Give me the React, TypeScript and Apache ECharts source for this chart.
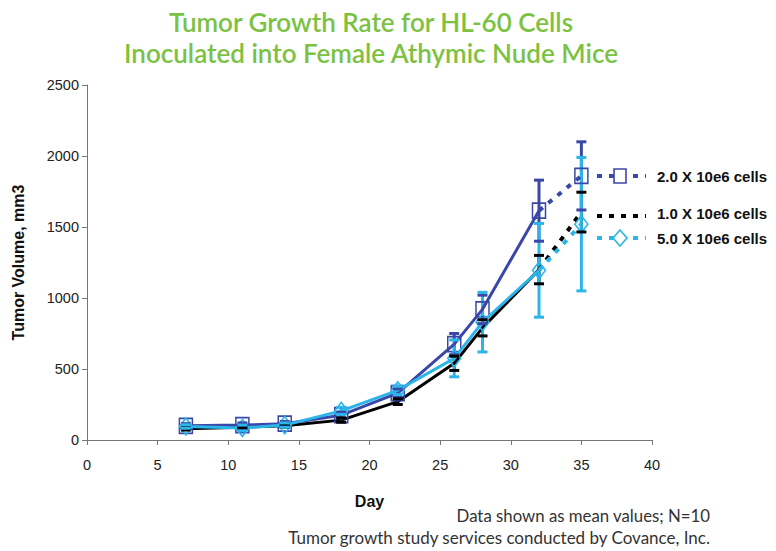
import React, { useEffect, useRef } from "react";
import * as echarts from "echarts";

const days = [7, 11, 14, 18, 22, 26, 28, 32, 35];
const cells2 = [100, 105, 115, 175, 330, 675, 920, 1615, 1860];
const err2 = [15, 15, 15, 20, 30, 75, 100, 215, 240];
const cells1 = [80, 90, 100, 140, 270, 540, 790, 1200, 1605];
const err1 = [10, 10, 10, 15, 20, 50, 57, 100, 140];
const cells5 = [95, 85, 105, 205, 350, 575, 830, 1195, 1520];
const err5 = [12, 20, 15, 25, 30, 130, 210, 330, 470];

const seriesNames = ["2.0 X 10e6 cells", "1.0 X 10e6 cells", "5.0 X 10e6 cells"];
const xTicks = [0, 5, 10, 15, 20, 25, 30, 35, 40];
const yTicks = [0, 500, 1000, 1500, 2000, 2500];

const BLUE = "#3b47a6";
const BLACK = "#000000";
const CYAN = "#2bb5e8";
const GREEN = "#7cc242";

const splitIdx = 7;

function solidData(vals: number[]) {
  return days.slice(0, splitIdx + 1).map((d, i) => [d, vals[i]]);
}
function dashData(vals: number[], withSymbol: boolean) {
  return days.slice(splitIdx).map((d, i) => ({
    value: [d, vals[splitIdx + i]],
    symbol: i === 0 || !withSymbol ? "none" : undefined,
  }));
}
function errData(vals: number[], errs: number[]) {
  return days.map((d, i) => [d, vals[i], errs[i]]);
}

function barSeries(vals: number[], errs: number[], color: string, z: number) {
  return {
    type: "custom",
    z,
    silent: true,
    data: errData(vals, errs),
    renderItem: (_p: any, api: any) => {
      const x = api.value(0), y = api.value(1), e = api.value(2);
      const t = api.coord([x, y + e]);
      const b = api.coord([x, y - e]);
      return {
        type: "line",
        shape: { x1: t[0], y1: t[1], x2: b[0], y2: b[1] },
        style: { stroke: color, lineWidth: 3 },
      };
    },
  };
}
function capSeries(vals: number[], errs: number[], color: string, z: number) {
  return {
    type: "custom",
    z,
    silent: true,
    data: errData(vals, errs),
    renderItem: (_p: any, api: any) => {
      const x = api.value(0), y = api.value(1), e = api.value(2);
      const t = api.coord([x, y + e]);
      const b = api.coord([x, y - e]);
      const h = 5;
      return {
        type: "group",
        children: [
          { type: "line", shape: { x1: t[0] - h, y1: t[1], x2: t[0] + h, y2: t[1] }, style: { stroke: color, lineWidth: 3 } },
          { type: "line", shape: { x1: b[0] - h, y1: b[1], x2: b[0] + h, y2: b[1] }, style: { stroke: color, lineWidth: 3 } },
        ],
      };
    },
  };
}

export default function App() {
  const ref = useRef<HTMLDivElement>(null);
  useEffect(() => {
    if (!ref.current) return;
    const chart = echarts.init(ref.current, undefined, { renderer: "svg" });
    const dash = [5, 7];
    const legendX1 = 597, legendX2 = 646, markX = 620;
    const legendRows = [
      { y: 176, color: BLUE, marker: "square", name: seriesNames[0], ty: 176 },
      { y: 216, color: BLACK, marker: "none", name: seriesNames[1], ty: 213 },
      { y: 238, color: CYAN, marker: "diamond", name: seriesNames[2], ty: 238 },
    ];
    const legendGraphics: any[] = [];
    legendRows.forEach((r) => {
      legendGraphics.push({
        type: "line",
        shape: { x1: legendX1, y1: r.y, x2: legendX2, y2: r.y },
        style: { stroke: r.color, lineWidth: 4, lineDash: dash },
      });
      if (r.marker === "square") {
        legendGraphics.push({
          type: "rect",
          shape: { x: markX - 6, y: r.y - 7, width: 12, height: 14 },
          style: { fill: "#fff", stroke: r.color, lineWidth: 1.6 },
        });
      } else if (r.marker === "diamond") {
        legendGraphics.push({
          type: "polygon",
          shape: { points: [[markX, r.y - 8], [markX + 7, r.y], [markX, r.y + 8], [markX - 7, r.y]] },
          style: { fill: "#fff", stroke: r.color, lineWidth: 1.6 },
        });
      }
      legendGraphics.push({
        type: "text",
        x: 657,
        y: r.ty,
        style: {
          text: r.name,
          fill: "#111",
          font: "bold 15px Arial, 'Liberation Sans', sans-serif",
          textVerticalAlign: "middle",
        },
      });
    });

    const lineSolid = (name: string, vals: number[], color: string, symbol: string, size: any, z: number) => ({
      name,
      type: "line",
      z,
      data: solidData(vals),
      symbol,
      symbolSize: size,
      showSymbol: symbol !== "none",
      lineStyle: { color, width: 3 },
      itemStyle: { color: "rgba(255,255,255,0)", borderColor: color, borderWidth: 1.6 },
    });
    const lineDashed = (name: string, vals: number[], color: string, symbol: string, size: any, z: number) => ({
      name,
      type: "line",
      z,
      data: dashData(vals, symbol !== "none"),
      symbol: symbol === "none" ? "none" : symbol,
      symbolSize: size,
      lineStyle: { color, width: 4, type: dash },
      itemStyle: { color: "rgba(255,255,255,0)", borderColor: color, borderWidth: 1.6 },
    });

    chart.setOption({
      animation: false,
      grid: { left: 87, right: 124, top: 85, bottom: 111, outerBoundsMode: "none", containLabel: false },
      xAxis: {
        type: "value",
        min: 0,
        max: 40,
        interval: 5,
        name: "Day",
        nameLocation: "middle",
        nameGap: 53,
        nameTextStyle: { fontFamily: "Arial, 'Liberation Sans'", fontWeight: "bold", fontSize: 16, color: "#111" },
        axisLine: { lineStyle: { color: "#777", width: 1 } },
        axisTick: { show: true, length: 5, lineStyle: { color: "#777" } },
        axisLabel: {
          margin: 17,
          fontFamily: "Arial, 'Liberation Sans'",
          fontSize: 14.5,
          color: "#222",
          formatter: (v: number) => (xTicks.includes(v) ? String(v) : ""),
        },
        splitLine: { show: false },
      },
      yAxis: {
        type: "value",
        min: 0,
        max: 2500,
        interval: 500,
        name: "Tumor Volume, mm3",
        nameLocation: "middle",
        nameGap: 61,
        nameRotate: 90,
        nameTextStyle: { fontFamily: "Arial, 'Liberation Sans'", fontWeight: "bold", fontSize: 16, color: "#111" },
        axisLine: { show: true, lineStyle: { color: "#777", width: 1 } },
        axisTick: { show: true, length: 5, lineStyle: { color: "#777" } },
        axisLabel: {
          margin: 8,
          fontFamily: "Arial, 'Liberation Sans'",
          fontSize: 14.5,
          color: "#222",
          formatter: (v: number) => (yTicks.includes(v) ? String(v) : ""),
        },
        splitLine: { show: false },
      },
      graphic: [
        {
          type: "text",
          x: 371,
          y: 22,
          style: {
            text: "Tumor Growth Rate for HL-60 Cells",
            fill: GREEN,
            font: "600 26px Lato, 'Open Sans', sans-serif",
            textAlign: "center",
            textVerticalAlign: "middle",
          },
        },
        {
          type: "text",
          x: 371,
          y: 53,
          style: {
            text: "Inoculated into Female Athymic Nude Mice",
            fill: GREEN,
            font: "600 26px Lato, 'Open Sans', sans-serif",
            textAlign: "center",
            textVerticalAlign: "middle",
          },
        },
        {
          type: "text",
          x: 710,
          y: 515,
          style: {
            text: "Data shown as mean values; N=10",
            fill: "#333",
            font: "16.8px Lato, 'Open Sans', sans-serif",
            textAlign: "right",
            textVerticalAlign: "middle",
          },
        },
        {
          type: "text",
          x: 710,
          y: 537,
          style: {
            text: "Tumor growth study services conducted by Covance, Inc.",
            fill: "#333",
            font: "17px Lato, 'Open Sans', sans-serif",
            textAlign: "right",
            textVerticalAlign: "middle",
          },
        },
        ...legendGraphics,
      ],
      series: [
        barSeries(cells1, err1, BLACK, 1),
        barSeries(cells2, err2, BLUE, 1),
        barSeries(cells5, err5, CYAN, 1),
        lineSolid(seriesNames[1], cells1, BLACK, "none", 0, 3),
        lineDashed(seriesNames[1], cells1, BLACK, "none", 0, 3),
        lineSolid(seriesNames[0], cells2, BLUE, "rect", [13, 15], 4),
        lineDashed(seriesNames[0], cells2, BLUE, "rect", [13, 15], 4),
        lineSolid(seriesNames[2], cells5, CYAN, "diamond", [13, 17], 5),
        lineDashed(seriesNames[2], cells5, CYAN, "diamond", [13, 17], 5),
        capSeries(cells2, err2, BLUE, 6),
        capSeries(cells1, err1, BLACK, 6),
        capSeries(cells5, err5, CYAN, 6),
      ],
    });
    return () => chart.dispose();
  }, []);
  return (
    <div
      ref={ref}
      style={{ position: "fixed", left: 0, top: 0, width: 776, height: 551, background: "#fff" }}
    />
  );
}
